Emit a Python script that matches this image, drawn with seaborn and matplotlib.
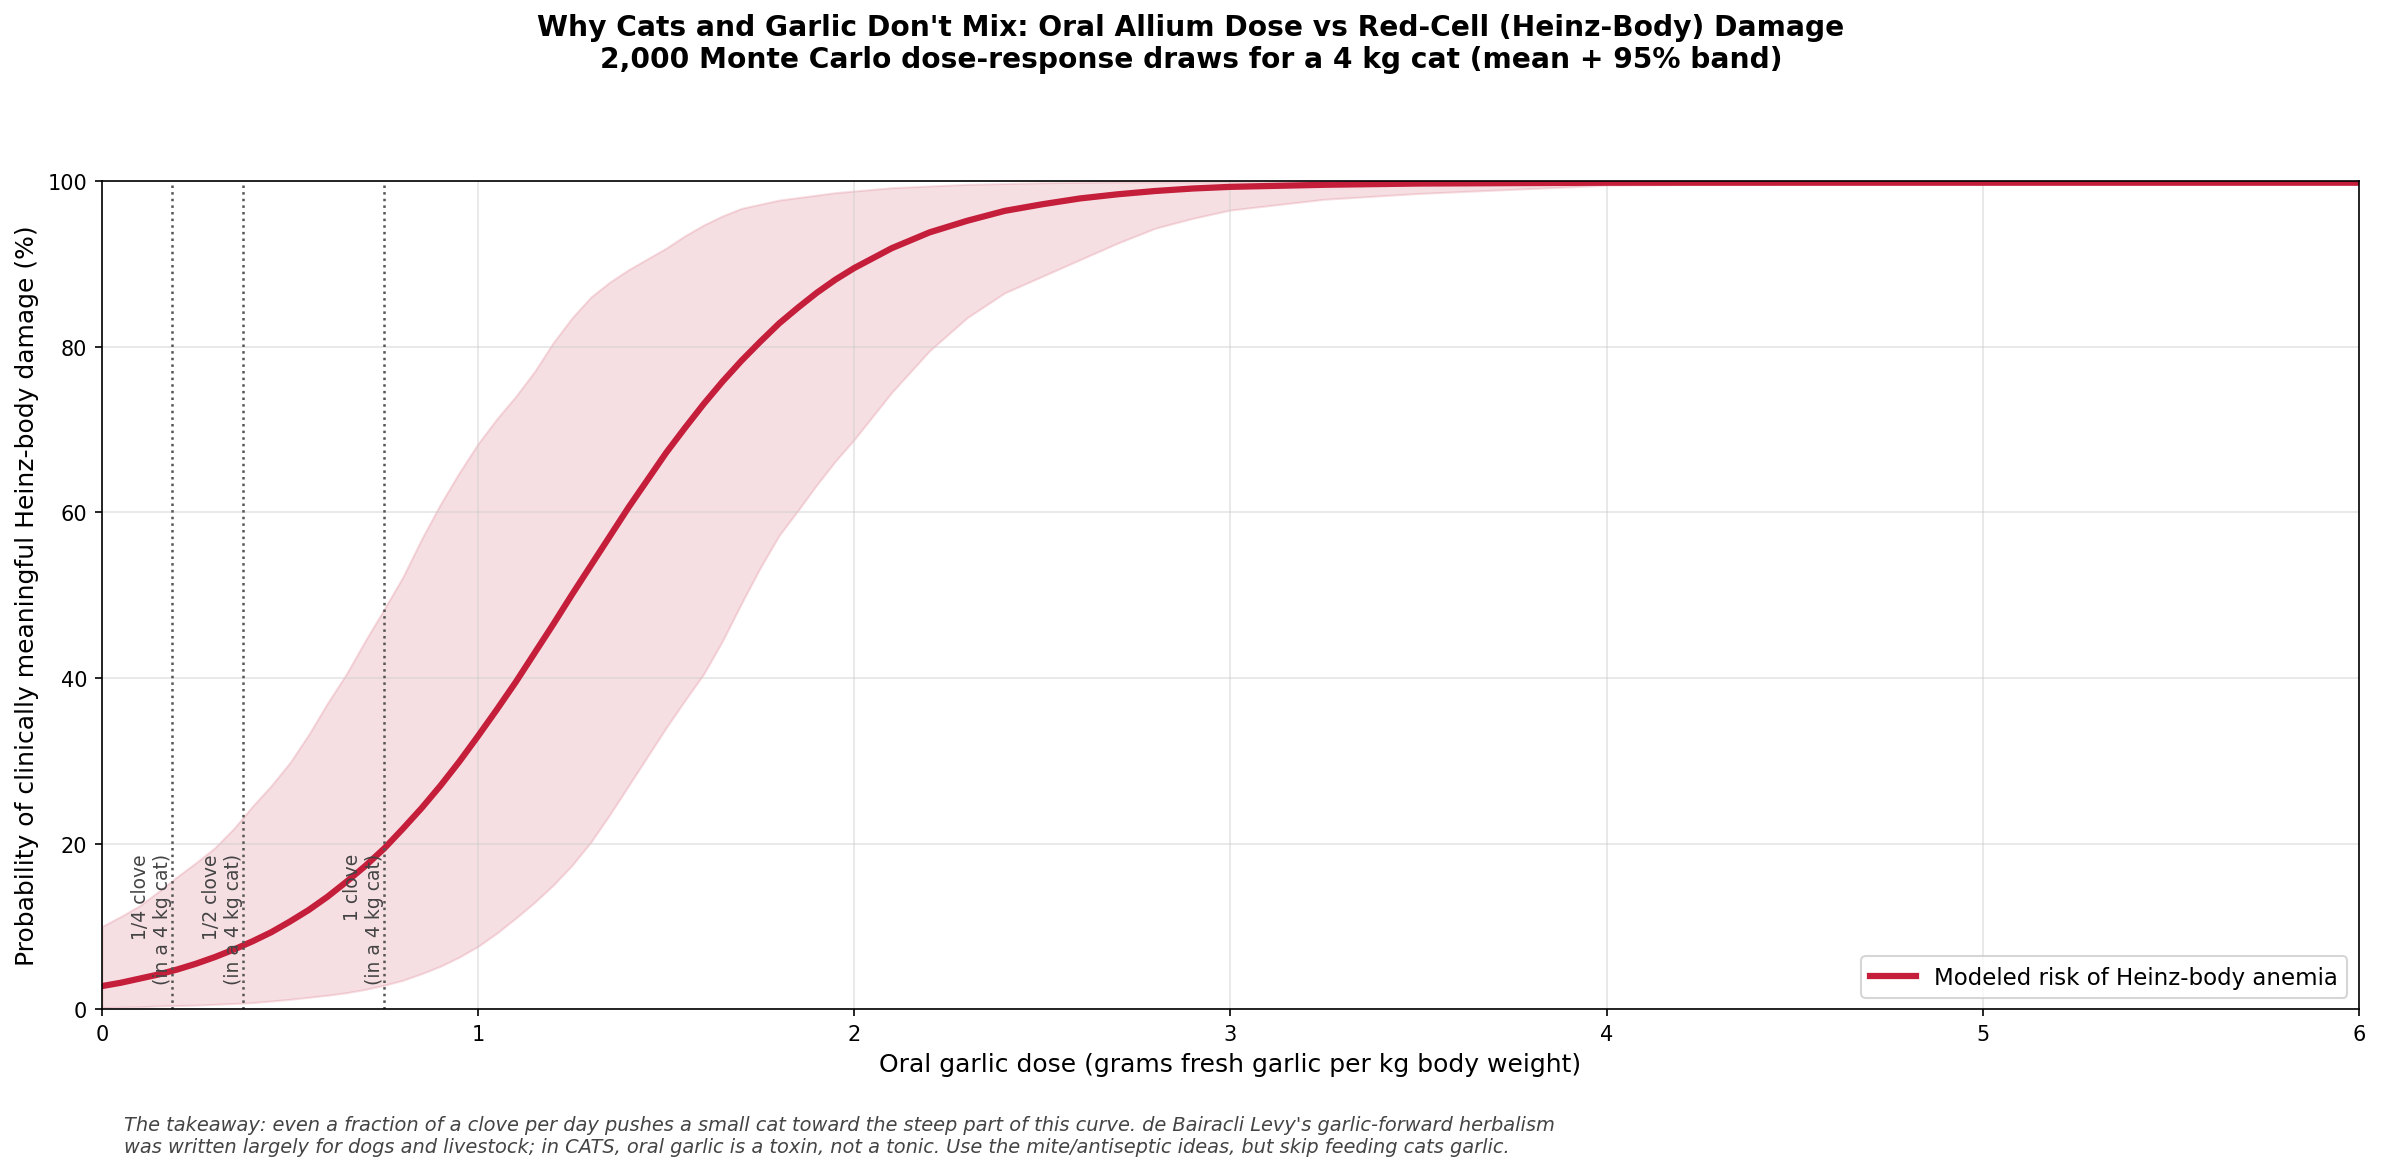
import matplotlib
matplotlib.use("Agg")
import matplotlib.pyplot as plt
import pandas as pd
import seaborn as sns

# values (dose in g/kg, probabilities in %)
dose = [0.0, 0.05, 0.1, 0.15, 0.2, 0.25, 0.3, 0.35, 0.4, 0.45,
        0.5, 0.55, 0.6, 0.65, 0.7, 0.75, 0.8, 0.85, 0.9, 0.95,
        1.0, 1.05, 1.1, 1.15, 1.2, 1.25, 1.3, 1.35, 1.4, 1.45,
        1.5, 1.55, 1.6, 1.65, 1.7, 1.75, 1.8, 1.85, 1.9, 1.95,
        2.0, 2.1, 2.2, 2.3, 2.4, 2.5, 2.6, 2.7, 2.8, 2.9,
        3.0, 3.25, 3.5, 4.0, 4.5, 5.0, 6.0]
risk_mean = [2.8, 3.2, 3.7, 4.2, 4.8, 5.5, 6.3, 7.2, 8.2, 9.3,
             10.6, 12.0, 13.6, 15.4, 17.3, 19.4, 21.8, 24.3, 27.0, 29.9,
             33.0, 36.2, 39.5, 43.0, 46.5, 50.1, 53.6, 57.1, 60.6, 63.9,
             67.2, 70.2, 73.1, 75.8, 78.3, 80.6, 82.8, 84.7, 86.5, 88.1,
             89.5, 91.9, 93.8, 95.2, 96.4, 97.2, 97.9, 98.4, 98.8, 99.1,
             99.3, 99.55, 99.7, 99.8, 99.8, 99.8, 99.8]
risk_lo = [0.2, 0.25, 0.3, 0.4, 0.45, 0.5, 0.6, 0.7, 0.8, 1.0,
           1.2, 1.45, 1.7, 2.0, 2.4, 2.9, 3.5, 4.3, 5.2, 6.3,
           7.6, 9.2, 11.0, 12.9, 15.0, 17.4, 20.2, 23.5, 27.0, 30.5,
           34.0, 37.3, 40.5, 44.5, 49.0, 53.3, 57.2, 60.2, 63.3, 66.2,
           68.8, 74.5, 79.5, 83.5, 86.5, 88.5, 90.5, 92.5, 94.3, 95.5,
           96.5, 97.8, 98.5, 99.5, 99.7, 99.8, 99.8]
risk_hi = [10.0, 11.2, 12.5, 14.2, 16.0, 17.7, 19.5, 21.8, 24.5, 27.0,
           29.8, 33.2, 37.0, 40.5, 44.5, 48.3, 52.2, 56.8, 61.0, 64.8,
           68.3, 71.3, 74.0, 77.0, 80.5, 83.5, 86.0, 87.8, 89.3, 90.6,
           91.9, 93.4, 94.7, 95.8, 96.7, 97.2, 97.7, 98.0, 98.3, 98.6,
           98.8, 99.2, 99.4, 99.6, 99.7, 99.8, 99.85, 99.9, 99.9, 99.9,
           99.9, 99.9, 99.9, 99.9, 99.9, 99.9, 99.9]

clove_doses = [0.1875, 0.375, 0.75]
clove_labels = ["1/4 clove\n(in a 4 kg cat)", "1/2 clove\n(in a 4 kg cat)",
                "1 clove\n(in a 4 kg cat)"]

red = "#c41e3a"

df = pd.DataFrame({"dose": dose, "risk": risk_mean})

fig = plt.figure(figsize=(15.88, 7.813), dpi=150)
ax = fig.add_axes([0.0428, 0.138, 0.9475, 0.7067])

ax.fill_between(dose, risk_lo, risk_hi, color=red, alpha=0.14, linewidth=1)
sns.lineplot(data=df, x="dose", y="risk", ax=ax, color=red, linewidth=3,
             label="Modeled risk of Heinz-body anemia")

for xd, lab in zip(clove_doses, clove_labels):
    ax.axvline(xd, color="#555555", linestyle=":", linewidth=1.2)
    ax.text(xd, 3, lab, rotation=90, ha="right", va="bottom",
            fontsize=9, color="#444444")

ax.set_xlim(0, 6)
ax.set_ylim(0, 100)
ax.set_xticks(range(0, 7))
ax.set_yticks(range(0, 101, 20))
ax.grid(True, color="#cccccc", alpha=0.5, linewidth=0.8)
ax.tick_params(labelsize=10)
ax.set_xlabel("Oral garlic dose (grams fresh garlic per kg body weight)", fontsize=12)
ax.set_ylabel("Probability of clinically meaningful Heinz-body damage (%)", fontsize=12)
ax.legend(loc="lower right", fontsize=11)

fig.suptitle("Why Cats and Garlic Don't Mix: Oral Allium Dose vs Red-Cell (Heinz-Body) Damage\n"
             "2,000 Monte Carlo dose-response draws for a 4 kg cat (mean + 95% band)",
             fontsize=13.5, fontweight="bold", y=0.988)

fig.text(0.052, 0.013,
         "The takeaway: even a fraction of a clove per day pushes a small cat toward the steep part of this curve. "
         "de Bairacli Levy's garlic-forward herbalism\n"
         "was written largely for dogs and livestock; in CATS, oral garlic is a toxin, not a tonic. "
         "Use the mite/antiseptic ideas, but skip feeding cats garlic.",
         fontsize=9.3, style="italic", color="#444444", ha="left", va="bottom")

fig.savefig("out.png", dpi=150)
